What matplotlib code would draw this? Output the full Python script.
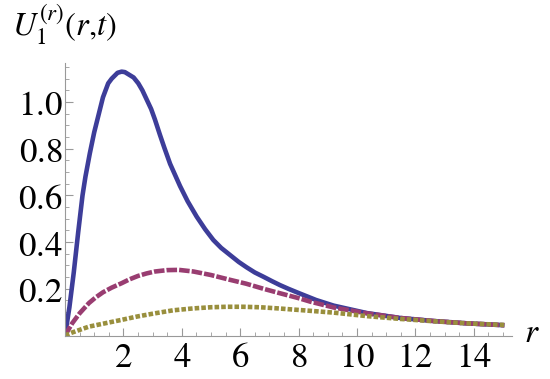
import numpy as np
import matplotlib
matplotlib.use("Agg")
import matplotlib.pyplot as plt

plt.rcParams['mathtext.fontset'] = 'stix'

# values
r_blue = [0, 0.15, 0.3, 0.45, 0.6, 0.7, 0.85, 1.0, 1.14, 1.3, 1.48, 1.6, 1.8, 1.94, 2.05,
          2.35, 2.51, 2.65, 2.95, 3.08, 3.25, 3.4, 3.6, 3.94, 4.2, 4.51, 4.8, 5.08, 5.35,
          5.65, 5.95, 6.22, 6.5, 6.79, 7.1, 7.36, 7.65, 8.0, 8.6, 9.2, 10.34, 11.48,
          12.63, 13.77, 15.05]
u_blue = [0, 0.12, 0.27, 0.44, 0.6, 0.68, 0.78, 0.87, 0.94, 1.02, 1.08, 1.10, 1.125, 1.13,
          1.128, 1.105, 1.08, 1.05, 0.97, 0.925, 0.86, 0.805, 0.735, 0.64, 0.575, 0.509,
          0.455, 0.409, 0.375, 0.345, 0.315, 0.292, 0.27, 0.252, 0.232, 0.216, 0.2, 0.182,
          0.152, 0.128, 0.096, 0.075, 0.062, 0.052, 0.044]

r_purple = [0, 0.25, 0.5, 0.82, 1.05, 1.3, 1.6, 1.94, 2.2, 2.5, 2.8, 3.08, 3.5, 3.9, 4.4,
            5.0, 5.6, 6.2, 6.8, 7.36, 8.0, 8.4, 9.2, 10.34, 11.48, 12.63, 13.77, 15.05]
u_purple = [0, 0.053, 0.095, 0.139, 0.163, 0.185, 0.205, 0.224, 0.24, 0.255, 0.266, 0.274,
            0.28, 0.281, 0.274, 0.259, 0.24, 0.222, 0.2, 0.181, 0.16, 0.145, 0.12, 0.095,
            0.075, 0.062, 0.052, 0.044]

r_yellow = [0, 0.25, 0.82, 1.4, 1.94, 2.5, 3.08, 3.71, 4.39, 5.0, 5.54, 6.1, 6.68, 7.3,
            8.05, 9.2, 10.34, 11.48, 12.63, 13.77, 15.05]
u_yellow = [0, 0.013, 0.038, 0.053, 0.067, 0.082, 0.095, 0.108, 0.116, 0.121, 0.123, 0.123,
            0.121, 0.116, 0.109, 0.098, 0.083, 0.071, 0.061, 0.052, 0.045]

x_ticks = [2, 4, 6, 8, 10, 12, 14]
y_ticks = [0.2, 0.4, 0.6, 0.8, 1.0]

fig = plt.figure(figsize=(5.5, 3.79), dpi=100)
ax = fig.add_axes([65/550, 1 - 335.5/379, 447/550, 272.5/379])

lw = 3.3
ax.plot(r_blue, u_blue, color='#3d3d99', lw=lw, solid_capstyle='butt', solid_joinstyle='round')
ax.plot(r_purple, u_purple, color='#993d71', lw=lw, dashes=(2.3, 0.45), dash_capstyle='butt')
ax.plot(r_yellow, u_yellow, color='#998f3d', lw=lw, dashes=(1.0, 0.45), dash_capstyle='butt')

ax.set_xlim(0, 15.31)
ax.set_ylim(0, 1.167)
ax.set_xticks(x_ticks)
ax.set_yticks(y_ticks)
ax.set_xticklabels([r'$\mathrm{%d}$' % t for t in x_ticks])
ax.set_yticklabels([r'$\mathrm{%.1f}$' % t for t in y_ticks])
ax.set_xticks(np.arange(0.5, 15.3, 0.5), minor=True)
ax.set_yticks(np.arange(0.05, 1.16, 0.05), minor=True)

for s in ['top', 'right']:
    ax.spines[s].set_visible(False)
for s in ['left', 'bottom']:
    ax.spines[s].set_color('#999999')
    ax.spines[s].set_linewidth(0.8)
ax.tick_params(which='major', direction='in', length=6, width=0.8, color='#999999',
               labelsize=25, pad=2)
ax.tick_params(which='minor', direction='in', length=3, width=0.6, color='#999999')
ax.tick_params(axis='x', which='major', pad=3)
ax.set_facecolor('none')

fig.text(12/550, 1 - 36/379, r'$U_{\mathrm{1}}^{(r)}(r{,}t)$', fontsize=23.5,
         ha='left', va='baseline')
fig.text(524/550, 1 - 342/379, r'$r$', fontsize=24, ha='left', va='baseline')

fig.savefig('out.png', dpi=100)
